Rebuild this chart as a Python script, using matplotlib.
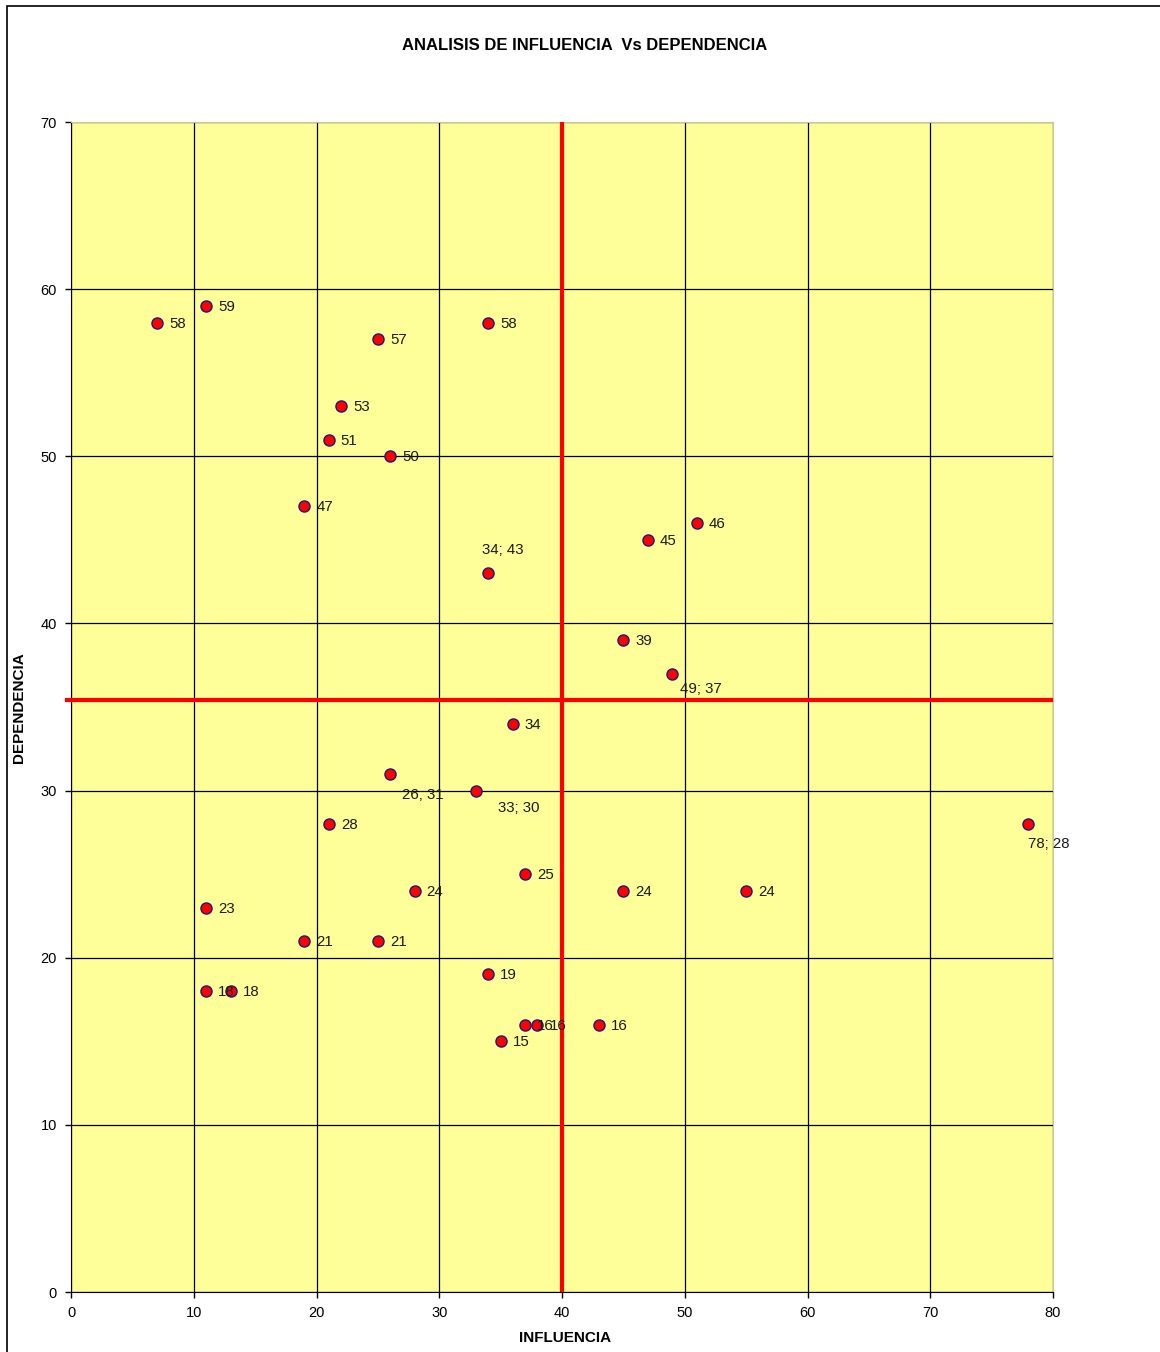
import matplotlib.pyplot as plt
from matplotlib.patches import Rectangle

plt.rcParams['font.family'] = ['Liberation Sans', 'DejaVu Sans']

# ---- datos ----
influencia = [7, 11, 25, 34, 22, 21, 26, 19, 34, 51, 47, 45, 49, 36, 26, 33,
              21, 78, 37, 28, 45, 55, 11, 19, 25, 34, 11, 13, 37, 38, 43, 35]
dependencia = [58, 59, 57, 58, 53, 51, 50, 47, 43, 46, 45, 39, 37, 34, 31, 30,
               28, 28, 25, 24, 24, 24, 23, 21, 21, 19, 18, 18, 16, 16, 16, 15]
etiquetas = ["58", "59", "57", "58", "53", "51", "50", "47", "34; 43", "46", "45",
             "39", "49; 37", "34", "26; 31", "33; 30", "28", "78; 28", "25", "24",
             "24", "24", "23", "21", "21", "19", "18", "18", "16", "16", "16", "15"]

CORTE_X = 40
CORTE_Y = 35.4

# desplazamientos especiales de etiquetas (pixeles)
offsets = {"34; 43": (14, 23, 'center'), "49; 37": (8, -15, 'left'),
           "26; 31": (12, -21, 'left'), "33; 30": (22, -17, 'left'),
           "78; 28": (0, -20, 'left')}

fig = plt.figure(figsize=(11.6, 13.52), dpi=100)
fig.patches.append(Rectangle((7 / 1160, -0.01), 1.2, 1 - 6 / 1352 + 0.01,
                             transform=fig.transFigure, fill=False,
                             edgecolor='black', lw=1.2))
ax = fig.add_axes([71 / 1160, 60 / 1352, 982 / 1160, 1170 / 1352])
ax.set_facecolor('#FFFF99')

ax.set_xlim(0, 80)
ax.set_ylim(0, 70)
ax.set_xticks(range(0, 81, 10))
ax.set_yticks(range(0, 71, 10))
ax.grid(True, color='black', lw=0.9)
ax.set_axisbelow(True)

for s in ['top', 'right']:
    ax.spines[s].set_color('#c8c8a0')
for s in ['left', 'bottom']:
    ax.spines[s].set_color('black')
ax.tick_params(direction='out', length=4, width=1, labelsize=10.5, pad=6)

ax.axvline(CORTE_X, color='red', lw=3, zorder=3)
ax.plot([-0.3, 79.8], [CORTE_Y, CORTE_Y], color='red', lw=3, zorder=3, clip_on=False)

ax.plot(influencia, dependencia, 'o', ms=8, mfc='red', mec='#1a1a80',
        mew=1, zorder=4, clip_on=False)

for x, y, t in zip(influencia, dependencia, etiquetas):
    dx, dy, ha = offsets.get(t, (12, -1, 'left'))
    ax.annotate(t, (x, y), xytext=(dx * 0.72, dy * 0.72), textcoords='offset points',
                ha=ha, va='center', fontsize=10.8, color='#1a1a1a', zorder=5,
                annotation_clip=False)

fig.text(585 / 1160, 1 - 46 / 1352, "ANALISIS DE INFLUENCIA  Vs DEPENDENCIA",
         ha='center', va='center', fontsize=12, fontweight='bold')
fig.text(565 / 1160, 1 - 1338 / 1352, "INFLUENCIA", ha='center', va='center',
         fontsize=11, fontweight='bold')
fig.text(19 / 1160, 1 - 708 / 1352, "DEPENDENCIA", ha='center', va='center',
         fontsize=11, fontweight='bold', rotation=90)

plt.savefig("out.png", dpi=100)
